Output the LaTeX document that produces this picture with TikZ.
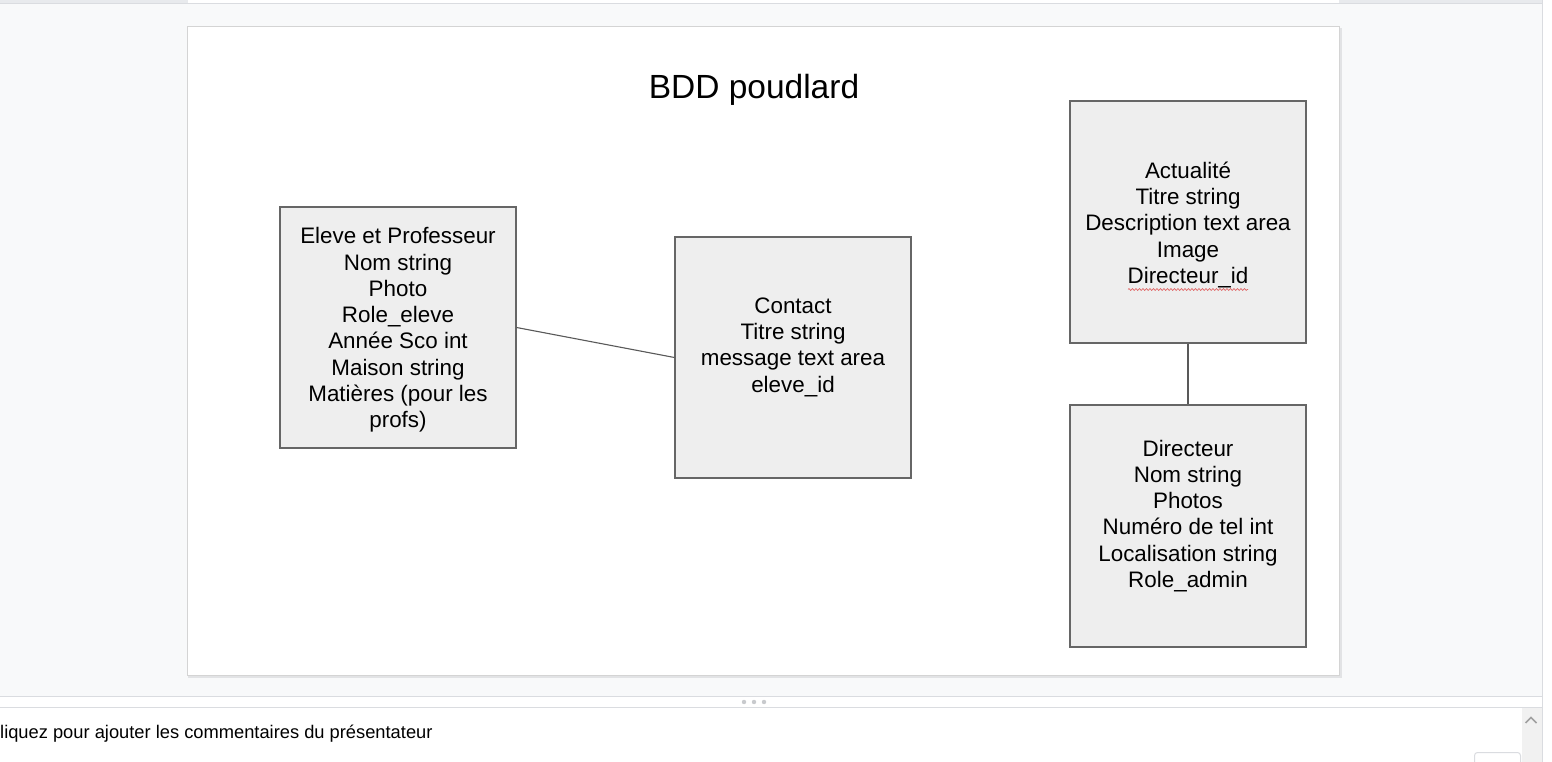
\documentclass[tikz,border=0pt]{standalone}
\usepackage{fontspec}
\setmainfont{Liberation Sans}
\usetikzlibrary{decorations.pathmorphing}
\definecolor{pagebg}{HTML}{F8F9FA}
\definecolor{stripbg}{HTML}{E8EAED}
\definecolor{uiline}{HTML}{DADCE0}
\definecolor{slideline}{HTML}{D4D4D4}
\definecolor{shadowc}{HTML}{E2E3E5}
\definecolor{boxfill}{HTML}{EEEEEE}
\definecolor{boxline}{HTML}{666666}
\definecolor{connline}{HTML}{595959}
\definecolor{dotc}{HTML}{C8CACD}
\definecolor{scrollbg}{HTML}{F1F1F1}
\definecolor{caretc}{HTML}{A0A0A0}
\definecolor{squigc}{HTML}{E06666}
\begin{document}
\begin{tikzpicture}[x=1pt,y=-1pt,
  entity/.style={draw=boxline, fill=boxfill, line width=1.15pt, minimum width=236pt, minimum height=241pt, inner sep=0pt},
  etext/.style={align=center, font=\fontsize{22.4}{26.3}\selectfont, inner sep=0pt, text=black},
  conn/.style={draw=connline, line width=1.1pt},
  uirule/.style={draw=uiline, line width=1pt},
  squig/.style={draw=squigc, line width=0.7pt, decorate, decoration={zigzag, segment length=3.5pt, amplitude=0.9pt}}]
\useasboundingbox (0,0) rectangle (1552,762);
% window background
\fill[white] (0,0) rectangle (1552,762);
\fill[pagebg] (0,4) rectangle (1542,696.5);
\fill[stripbg] (0,0) rectangle (188,3.5);
\fill[stripbg] (1339,0) rectangle (1542,3.5);
\draw[uirule] (0,3.8) -- (1542,3.8);
\draw[uirule] (0,696.5) -- (1542,696.5);
\draw[uirule] (0,707.5) -- (1542,707.5);
\draw[uirule] (1542.5,0) -- (1542.5,762);
% drag handle dots
\fill[dotc] (744,702) circle (2.2);
\fill[dotc] (754,702) circle (2.2);
\fill[dotc] (764,702) circle (2.2);
% slide
\fill[shadowc] (188,28) rectangle (1341.5,678);
\draw[slideline, fill=white, line width=1pt] (187.5,26.5) rectangle (1339.5,675.5);
% title
\node[anchor=base, font=\fontsize{33.5}{40}\selectfont] (title) at (754,99) {BDD poudlard};
% entities
\node[entity] (eleve) at (398,327.5) {};
\node[entity] (contact) at (793,357.5) {};
\node[entity, minimum height=242pt] (actu) at (1188,222) {};
\node[entity, minimum height=242pt] (dir) at (1188,526) {};
\node[etext] (eleveT) at (398,330.5) {\strut Eleve et Professeur\\\strut Nom string\\\strut Photo\\\strut Role\_eleve\\\strut Année Sco int\\\strut Maison string\\\strut Matières (pour les\\\strut profs)};
\node[etext] (contactT) at (793,347.5) {\strut Contact\\\strut Titre string\\\strut message text area\\\strut eleve\_id};
\node[etext] (actuT) at (1188,225.5) {\strut Actualité\\\strut Titre string\\\strut Description text area\\\strut Image\\\strut Directeur\_id};
\node[etext] (dirT) at (1188,516.5) {\strut Directeur\\\strut Nom string\\\strut Photos\\\strut Numéro de tel int\\\strut Localisation string\\\strut Role\_admin};
% spell-check underline
\coordinate (sqA) at (1128,289.5);
\coordinate (sqB) at (1248,289.5);
\draw[squig] (sqA) -- (sqB);
% connectors
\draw[conn] (eleve.east) -- (contact.west);
\draw[conn] (actu.south) -- (dir.north);
% notes area
\node[anchor=base west, inner sep=0pt, font=\fontsize{18.3}{22}\selectfont] (notes) at (0,738) {liquez pour ajouter les commentaires du présentateur};
% scrollbar
\fill[scrollbg] (1522,708) rectangle (1542,762);
\draw[caretc, line width=1.5pt] (1525.5,723) -- (1531,717.5) -- (1536.5,723);
\draw[uiline, fill=white, rounded corners=3pt, line width=1pt] (1474.5,752.5) rectangle (1520.5,770);
\end{tikzpicture}
\end{document}
